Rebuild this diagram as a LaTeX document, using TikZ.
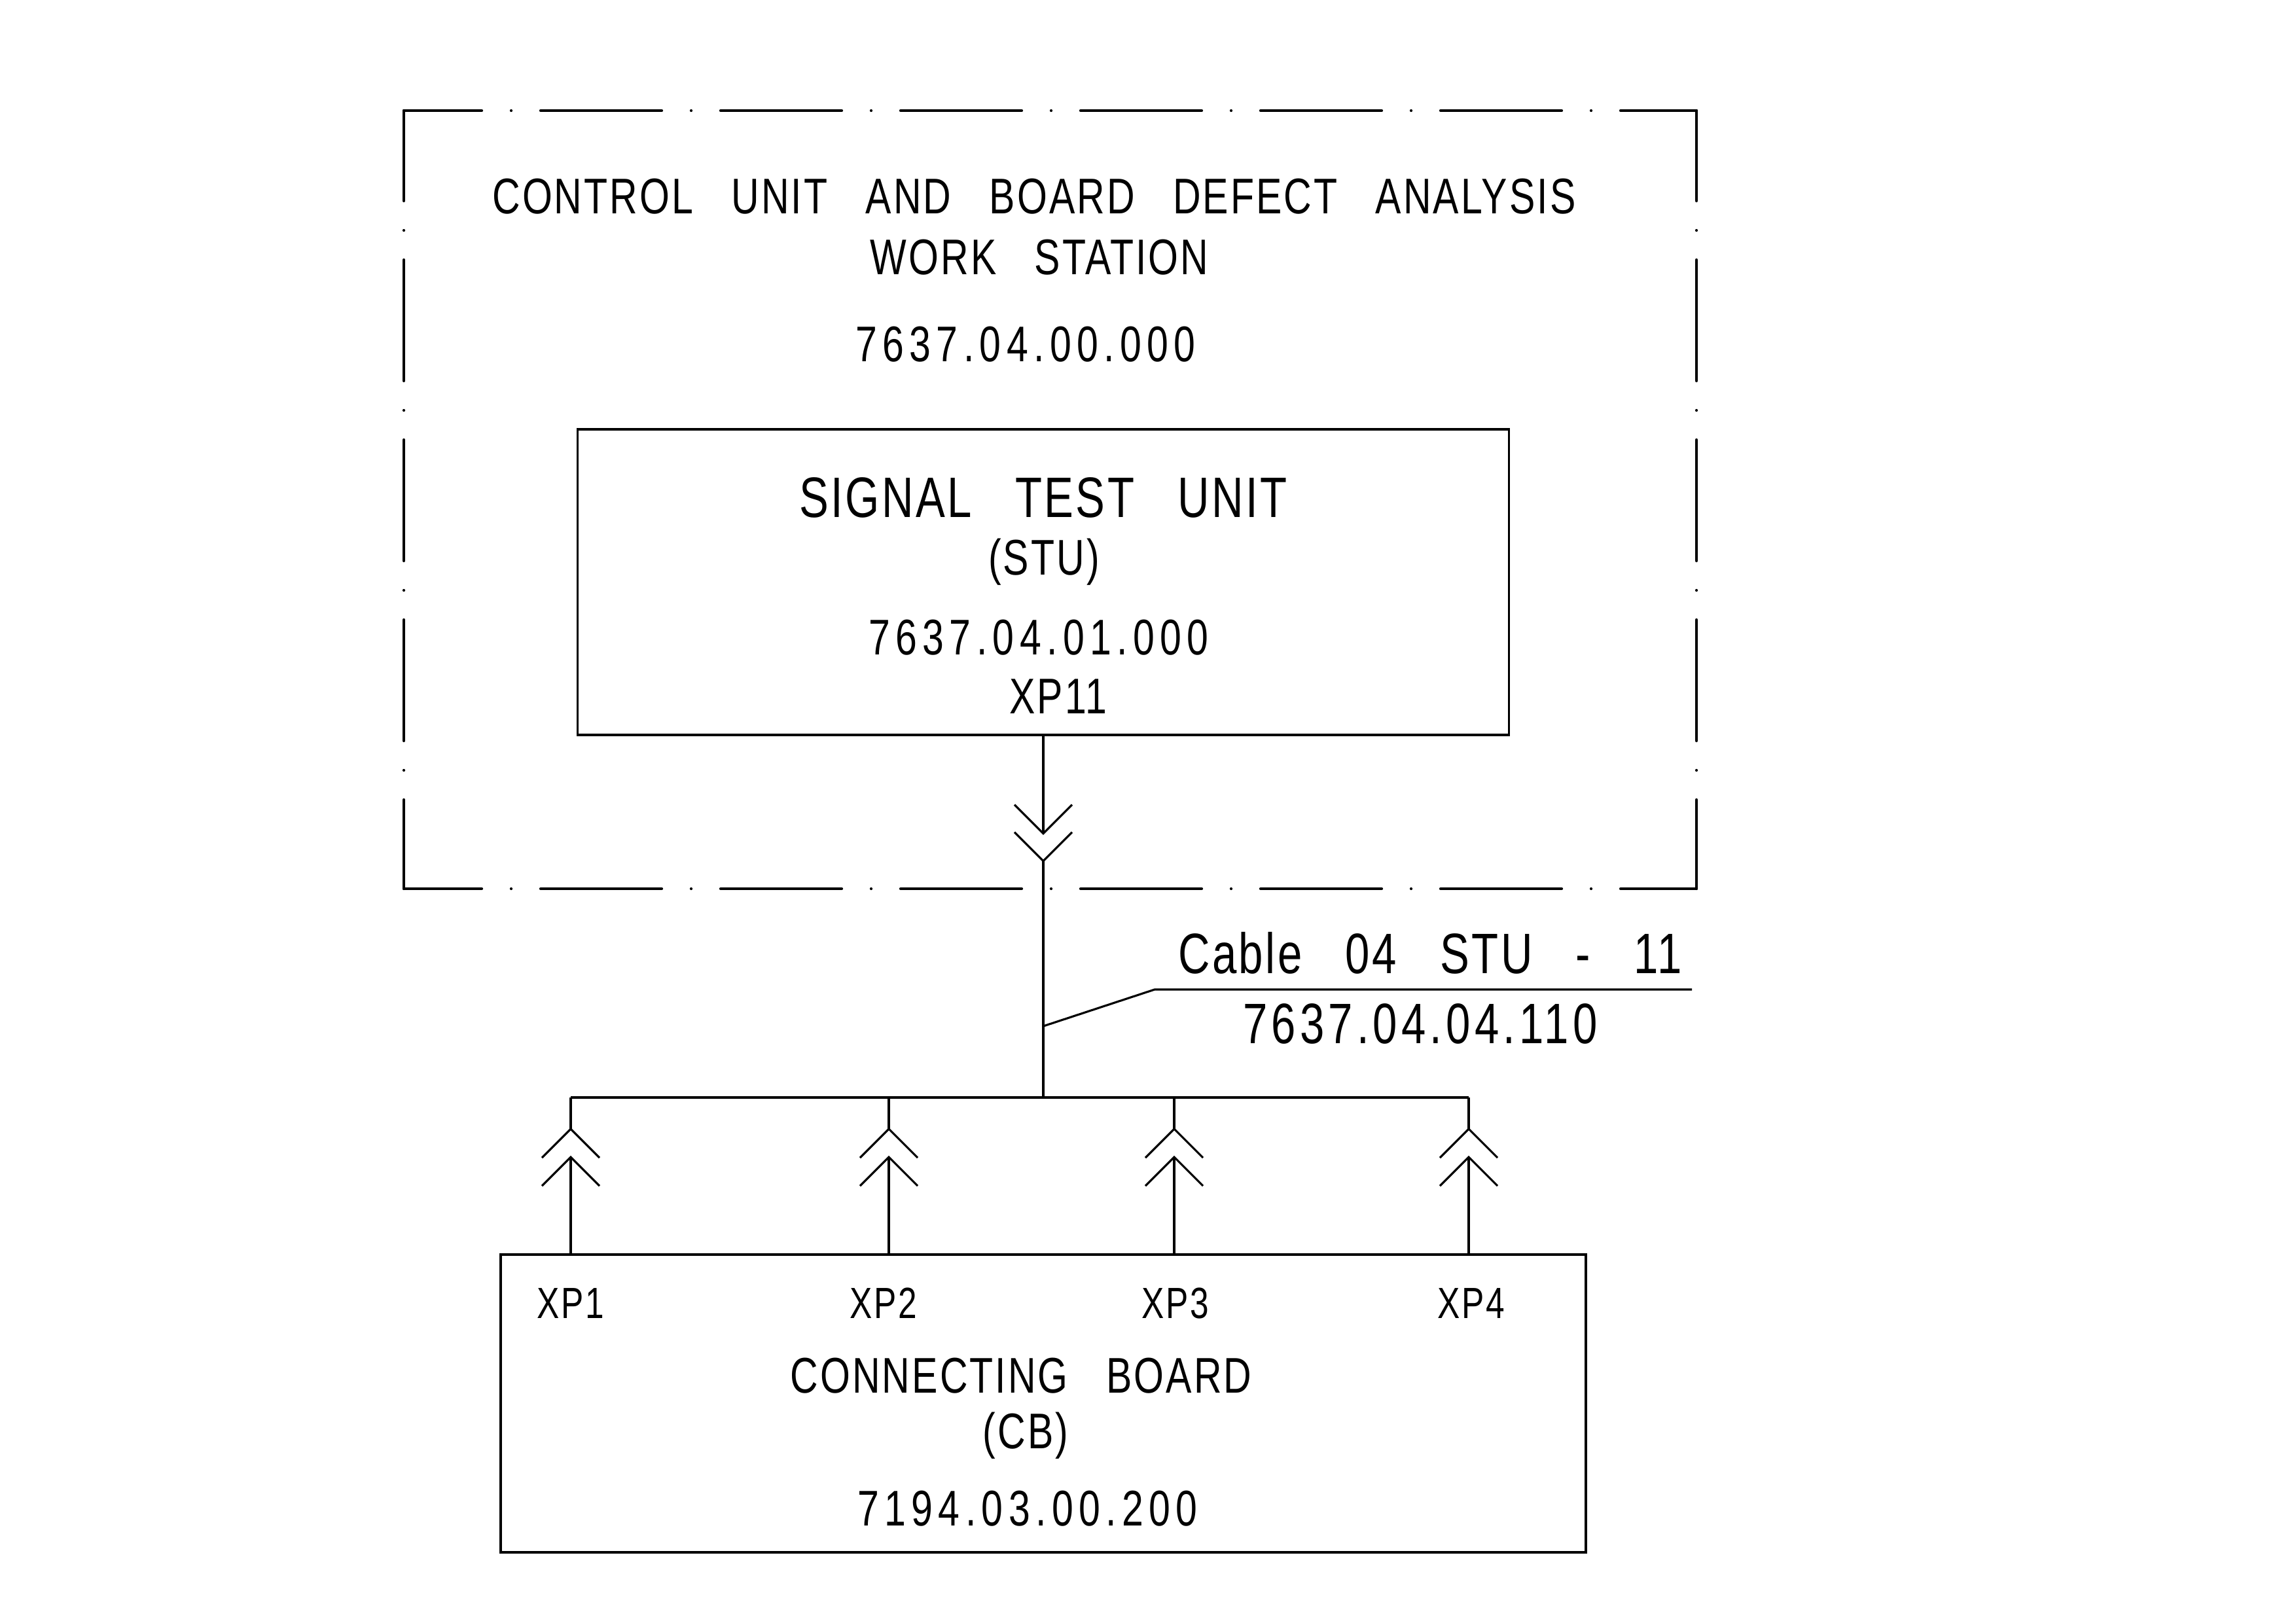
\documentclass[tikz,border=0pt]{standalone}
\usepackage{fontspec}
\setmainfont{Liberation Sans}[FakeStretch=0.77,LetterSpace=4,WordSpace=3]
\usetikzlibrary{calc}

\begin{document}
\begin{tikzpicture}[
  line width=0.9pt,
  unit/.style={draw,inner sep=0pt},
  lbl/.style={anchor=base,inner sep=0pt,font=\fontsize{21.8}{26}\selectfont},
  numlbl/.style={anchor=base,inner sep=0pt,font=\fontsize{21.8}{26}\selectfont\addfontfeatures{LetterSpace=11}},
  biglbl/.style={anchor=base,inner sep=0pt,font=\fontsize{24.8}{30}\selectfont},
  bignumlbl/.style={anchor=base,inner sep=0pt,font=\fontsize{24.8}{30}\selectfont\addfontfeatures{LetterSpace=7}},
  xplbl/.style={anchor=base,inner sep=0pt,font=\fontsize{19}{23}\selectfont},
  frame/.style={line width=1.2pt,line cap=round,dash pattern=on 1.85cm off 0.45cm on 0pt off 0.45cm}
]
\useasboundingbox (0,0) rectangle (35.08,-24.79);

% Work station frame
\draw[frame,dash phase=0.66cm] (6.17,-1.69) -- (25.92,-1.69);
\draw[frame,dash phase=0.66cm] (6.17,-13.58) -- (25.92,-13.58);
\draw[frame,dash phase=0.47cm] (6.17,-1.69) -- (6.17,-13.58);
\draw[frame,dash phase=0.47cm] (25.92,-1.69) -- (25.92,-13.58);

\node[lbl] (ws1) at (15.80,-3.26) {CONTROL UNIT AND BOARD DEFECT ANALYSIS};
\node[lbl] (ws2) at (15.88,-4.19) {WORK STATION};
\node[numlbl] (wsno) at (15.67,-5.52) {7637.04.00.000};

% Signal test unit
\node[unit,minimum width=14.23cm,minimum height=4.67cm] (stu) at (15.94,-8.895) {};
\node[biglbl] (stu1) at (15.94,-7.90) {SIGNAL TEST UNIT};
\node[lbl] (stu2) at (15.95,-8.78) {(STU)};
\node[numlbl] (stuno) at (15.87,-10.00) {7637.04.01.000};
\node[lbl] (xp11) at (16.17,-10.90) {XP11};

% Connecting board
\node[unit,minimum width=16.58cm,minimum height=4.55cm] (cb) at (15.94,-21.445) {};
\node[lbl] (cb1) at (15.60,-21.28) {CONNECTING BOARD};
\node[lbl] (cb2) at (15.67,-22.13) {(CB)};
\node[numlbl] (cbno) at (15.70,-23.31) {7194.03.00.200};

% Plug XP11
\draw (stu.south) -- ++(0,-1.49) coordinate (xs1);
\draw ($(xs1)+(-0.44,0.44)$) -- (xs1) -- ++(0.44,0.44);
\coordinate (xs2) at ($(xs1)+(0,-0.42)$);
\draw ($(xs2)+(-0.44,0.44)$) -- (xs2) -- ++(0.44,0.44);
\coordinate (hub) at (15.94,-16.77);
\draw (xs2) -- (hub);

% Cable leader
\coordinate (tap) at (15.94,-15.68);
\draw (tap) -- (17.64,-15.12) coordinate (knee) -- (25.85,-15.12);
\node[biglbl] (cab1) at (21.85,-14.87) {Cable 04 STU - 11};
\node[bignumlbl] (cab2) at (21.70,-15.94) {7637.04.04.110};

% Board plugs
\foreach \x/\n in {8.72/1,13.58/2,17.94/3,22.44/4} {
  \coordinate (bus\n) at (\x,-16.77);
  \coordinate (up\n) at (\x,-17.25);
  \coordinate (lo\n) at (\x,-17.68);
  \draw (bus\n) -- (up\n);
  \draw ($(up\n)+(-0.44,-0.44)$) -- (up\n) -- ++(0.44,-0.44);
  \draw ($(lo\n)+(-0.44,-0.44)$) -- (lo\n) -- ++(0.44,-0.44);
  \draw (lo\n) -- (lo\n |- cb.north);
}
\draw (bus1) -- (bus4);

\node[xplbl] (xp1) at (8.72,-20.14) {XP1};
\node[xplbl] (xp2) at (13.50,-20.14) {XP2};
\node[xplbl] (xp3) at (17.96,-20.14) {XP3};
\node[xplbl] (xp4) at (22.48,-20.14) {XP4};
\end{tikzpicture}
\end{document}
